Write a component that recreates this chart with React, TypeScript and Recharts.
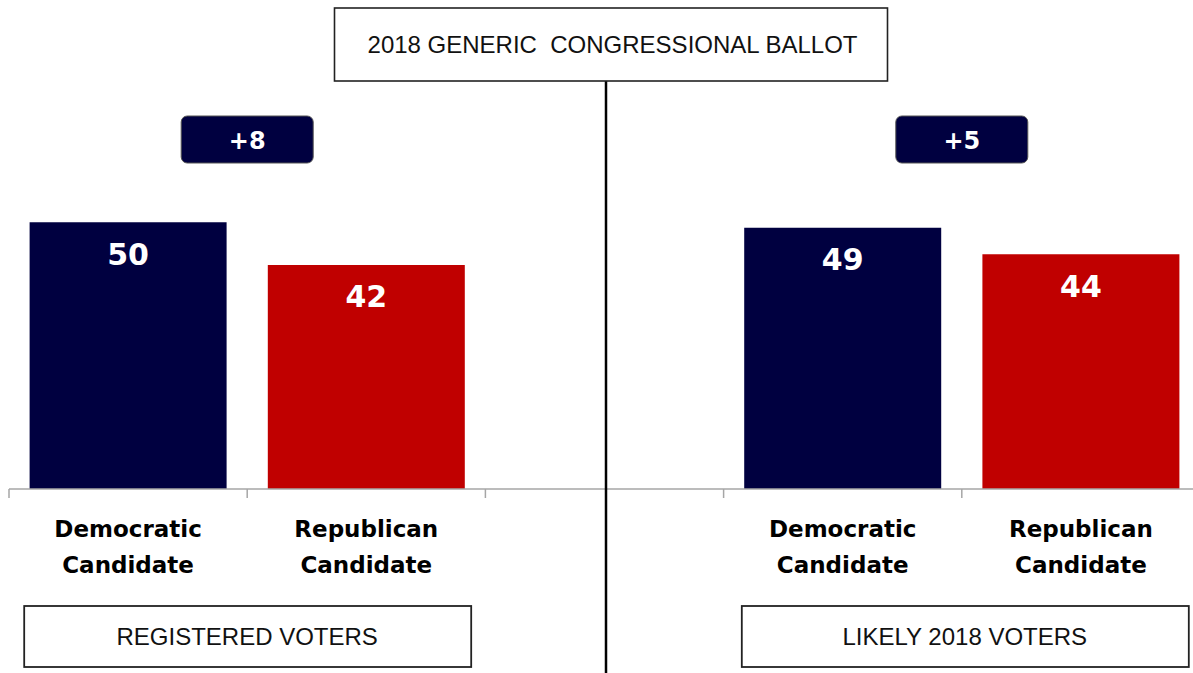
import React from "react";
import { BarChart, Bar, XAxis, YAxis, Cell, LabelList } from "recharts";

const chartTitle = "2018 GENERIC  CONGRESSIONAL BALLOT";
const groupNames = ["REGISTERED VOTERS", "LIKELY 2018 VOTERS"];
const candidateLines = [
  ["Democratic", "Candidate"],
  ["Republican", "Candidate"],
];
const registeredVoters = [50, 42];
const likelyVoters = [49, 44];

const NAVY = "#000040";
const RED = "#C00000";
const AXIS_GRAY = "#A6A6A6";
const LABEL_FONT = "'DejaVu Sans', Verdana, sans-serif";
const BOX_FONT = "'Liberation Sans Narrow', 'Arial Narrow', 'Liberation Sans', sans-serif";

type Row = { key: string; group: number; cand: number; value: number | null };

const rows: Row[] = [
  { key: "rv-dem", group: 0, cand: 0, value: registeredVoters[0] },
  { key: "rv-rep", group: 0, cand: 1, value: registeredVoters[1] },
  { key: "divider", group: -1, cand: -1, value: null },
  { key: "lv-dem", group: 1, cand: 0, value: likelyVoters[0] },
  { key: "lv-rep", group: 1, cand: 1, value: likelyVoters[1] },
];

const CHART_W = 1200;
const CHART_H = 673;
const MARGIN = { top: 169, right: 0, bottom: 0, left: 9 };

function AxisTick(props: any) {
  const { x, y, payload, index } = props;
  const row = rows[index];
  const bandHalf =
    payload && typeof payload.offset === "number" && payload.offset > 0
      ? payload.offset
      : (CHART_W - MARGIN.left - MARGIN.right) / rows.length / 2;
  const left = x - bandHalf;
  const tick = (
    <line x1={left} y1={y} x2={left} y2={y + 9} stroke={AXIS_GRAY} strokeWidth={1.5} />
  );
  if (!row) return <g>{tick}</g>;

  if (row.value === null) {
    // center divider with title box
    return (
      <g>
        {tick}
        <line x1={x + 1.5} y1={y - 408} x2={x + 1.5} y2={y + 184} stroke="#000" strokeWidth={2.5} />
        <rect
          x={x - 270}
          y={y - 481}
          width={553}
          height={73}
          fill="#fff"
          stroke="#222"
          strokeWidth={1.6}
        />
        <text
          x={x + 8}
          y={y - 436}
          textAnchor="middle"
          fontFamily={BOX_FONT}
          fontSize={24}
          fill="#111"
          style={{ whiteSpace: "pre" }}
        >
          {chartTitle}
        </text>
      </g>
    );
  }

  const lines = candidateLines[row.cand];
  const extras: React.ReactNode[] = [];
  if (row.cand === 0) {
    const next = rows[index + 1];
    const cx = x + bandHalf;
    const diff = (row.value as number) - ((next && next.value) as number);
    extras.push(
      <g key="margin">
        <rect
          x={cx - 66}
          y={y - 373}
          width={132}
          height={47}
          rx={6}
          ry={6}
          fill={NAVY}
          stroke="#555"
          strokeWidth={1}
        />
        <text
          x={cx}
          y={y - 340}
          textAnchor="middle"
          fontFamily={LABEL_FONT}
          fontWeight={700}
          fontSize={24}
          fill="#fff"
        >
          {diff > 0 ? `+${diff}` : `${diff}`}
        </text>
      </g>
    );
    const shift = row.group === 1 ? 3 : 0;
    extras.push(
      <g key="group">
        <rect
          x={cx - 223 + shift}
          y={y + 117}
          width={447}
          height={61}
          fill="#fff"
          stroke="#222"
          strokeWidth={1.8}
        />
        <text
          x={cx + shift}
          y={y + 156}
          textAnchor="middle"
          fontFamily={BOX_FONT}
          fontSize={24}
          fill="#111"
        >
          {groupNames[row.group]}
        </text>
      </g>
    );
  }

  return (
    <g>
      {tick}
      {extras}
      <text
        x={x}
        y={y + 48}
        textAnchor="middle"
        fontFamily={LABEL_FONT}
        fontWeight={700}
        fontSize={23}
        fill="#000"
      >
        {lines[0]}
      </text>
      <text
        x={x}
        y={y + 84}
        textAnchor="middle"
        fontFamily={LABEL_FONT}
        fontWeight={700}
        fontSize={23}
        fill="#000"
      >
        {lines[1]}
      </text>
    </g>
  );
}

export default function App() {
  return (
    <div
      style={{
        position: "absolute",
        left: 0,
        top: 0,
        width: 1193,
        height: 673,
        overflow: "hidden",
        background: "#fff",
      }}
    >
      <BarChart
        width={CHART_W}
        height={CHART_H}
        data={rows}
        margin={MARGIN}
        barCategoryGap="8.65%"
      >
        <YAxis hide domain={[0, 60]} type="number" />
        <XAxis
          dataKey="key"
          type="category"
          height={184}
          interval={0}
          tickSize={0}
          tickMargin={0}
          tickLine={false}
          axisLine={{ stroke: AXIS_GRAY, strokeWidth: 1.5 }}
          tick={<AxisTick />}
        />
        <Bar dataKey="value" isAnimationActive={false}>
          {rows.map((r) => (
            <Cell key={r.key} fill={r.cand === 0 ? NAVY : RED} />
          ))}
          <LabelList
            dataKey="value"
            position="insideTop"
            offset={21}
            fill="#fff"
            fontFamily={LABEL_FONT}
            fontWeight={700}
            fontSize={30}
          />
        </Bar>
      </BarChart>
    </div>
  );
}
